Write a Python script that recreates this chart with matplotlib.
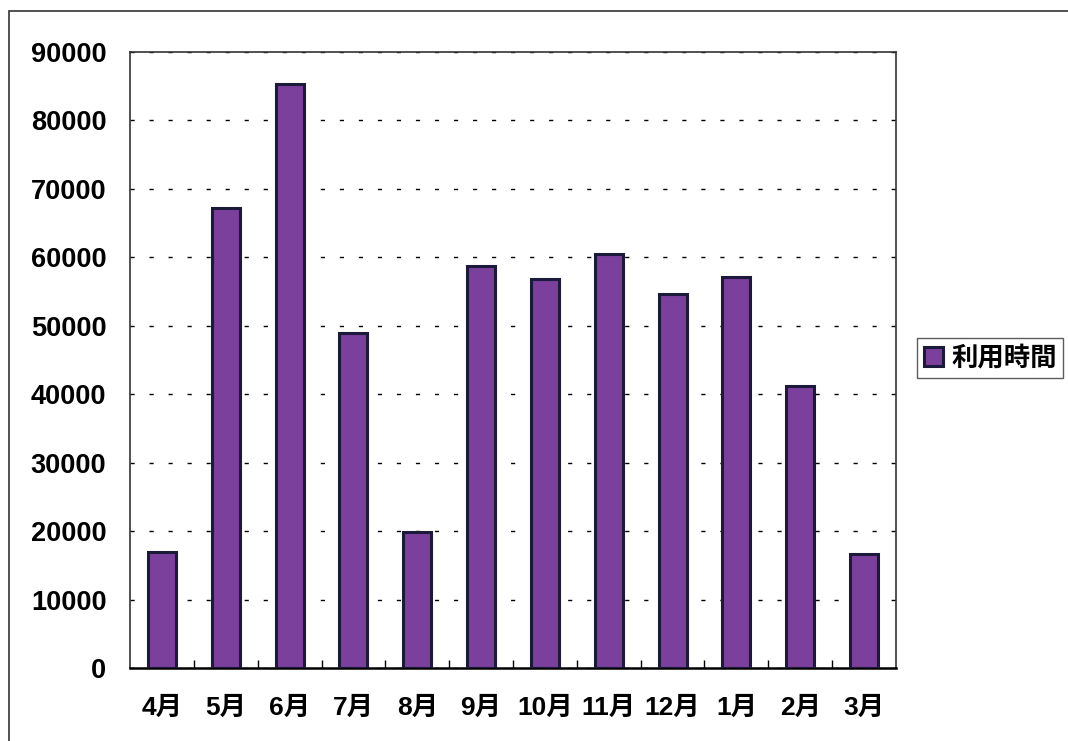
import matplotlib.pyplot as plt
from matplotlib.patches import Rectangle
from matplotlib.ticker import MultipleLocator

plt.rcParams['font.family'] = ['Liberation Sans', 'Noto Sans CJK JP', 'DejaVu Sans']

# monthly usage time
months = ['4月', '5月', '6月', '7月', '8月', '9月', '10月', '11月', '12月', '1月', '2月', '3月']
usage = [17000, 67200, 85300, 49000, 19800, 58800, 56800, 60500, 54600, 57100, 41200, 16600]

bar_color = '#7b3f9c'
edge_color = '#1c1a3a'

fig = plt.figure(figsize=(10.68, 7.41), dpi=100)
ax = fig.add_axes([130 / 1068, 1 - 668 / 741, (896 - 130) / 1068, (668 - 52) / 741])

x = range(len(months))
ax.bar(x, usage, width=0.44, color=bar_color, edgecolor=edge_color, linewidth=2.2,
       label='利用時間', zorder=3)

ax.set_xlim(-0.5, len(months) - 0.5)
ax.set_ylim(0, 90000)
ax.yaxis.set_major_locator(MultipleLocator(10000))
ax.set_xticks(list(x))
ax.set_xticklabels(months, fontsize=19, fontweight='bold',
                   family=['Liberation Sans', 'Noto Sans CJK JP'])
ax.set_xticks([i + 0.5 for i in range(len(months) - 1)], minor=True)
ax.tick_params(axis='x', which='major', length=0, pad=20)
ax.tick_params(axis='x', which='minor', direction='in', length=6, width=1)
ax.tick_params(axis='y', length=0, pad=17, labelsize=19.5)
for lab in ax.get_yticklabels():
    lab.set_fontweight('bold')

ax.grid(axis='y', color='black', linestyle=(0, (3, 10.7)), linewidth=1, zorder=1)
for s in ax.spines.values():
    s.set_color('#333333')
    s.set_linewidth(1.2)
ax.spines['bottom'].set_color('black')
ax.spines['bottom'].set_linewidth(1.8)

leg = fig.legend(loc='upper left', bbox_to_anchor=(917 / 1068, 1 - 338 / 741),
                 prop={'family': ['Noto Sans CJK JP'], 'size': 19, 'weight': 'bold'},
                 frameon=True, fancybox=False, handlelength=0.75, handleheight=0.75,
                 handletextpad=0.3, borderpad=0.25, borderaxespad=0)
leg.get_frame().set_edgecolor('#333333')
leg.get_frame().set_linewidth(1)

# outer chart frame (runs off the right and bottom edges)
fig.patches.append(Rectangle((9 / 1068, -0.05), 1.1, 1 - 11 / 741 + 0.05,
                             transform=fig.transFigure, fill=False,
                             edgecolor='#333333', linewidth=1.2))

fig.savefig('out.png', dpi=100)
